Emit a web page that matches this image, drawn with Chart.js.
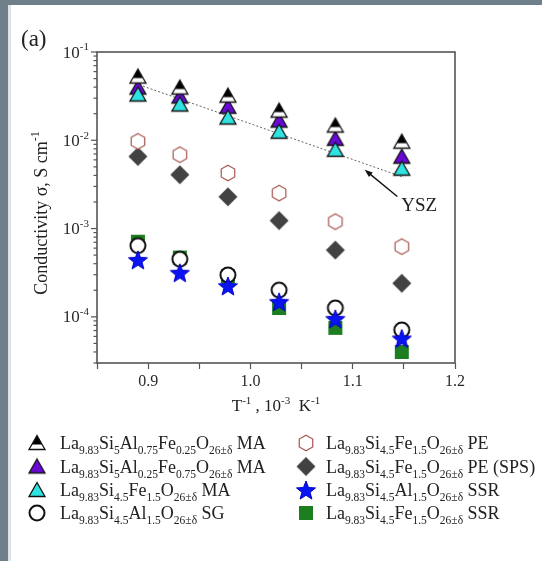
<!DOCTYPE html>
<html>
<head>
<meta charset="utf-8">
<script src="https://cdn.jsdelivr.net/npm/chart.js@4.4.1/dist/chart.umd.min.js"></script>
<style>
  html, body { margin: 0; padding: 0; background: #fff; }
  #wrap { position: relative; width: 542px; height: 561px; }
</style>
</head>
<body>
<div id="wrap"><canvas id="chart"></canvas></div>
<script>
// inverse temperature, 10^-3 K^-1
const invT = [0.890, 0.931, 0.978, 1.028, 1.083, 1.148];

// conductivity, S/cm
const sAl75Fe25MA = [0.0527, 0.0396, 0.0321, 0.0217, 0.0147, 0.00964];
const sAl25Fe75MA = [0.0396, 0.0313, 0.0240, 0.0167, 0.0104, 0.00652];
const sFeMA       = [0.0330, 0.0254, 0.0181, 0.0125, 0.0078, 0.00477];
const sAlSG       = [6.4e-4, 4.5e-4, 2.98e-4, 2.01e-4, 1.26e-4, 7.1e-5];
const sFePE       = [0.00973, 0.00687, 0.00426, 0.00252, 0.00120, 6.25e-4];
const sFeSPS      = [0.00656, 0.00407, 0.00229, 0.00123, 5.7e-4, 2.4e-4];
const sAlSSR      = [4.42e-4, 3.16e-4, 2.24e-4, 1.48e-4, 9.5e-5, 5.7e-5];
const sFeSSR      = [7.1e-4, 4.7e-4, 2.9e-4, 1.26e-4, 7.5e-5, 4.0e-5];

// YSZ reference line
const yszX = [0.895, 1.150];
const yszY = [0.041, 0.0038];
const yszArrowX = [1.1436, 1.1117];
const yszArrowY = [0.00231, 0.00464];
const yszLabelAt = [1.165, 0.0018];

const legendLabels = [
  'La_{9.83}Si_{5}Al_{0.75}Fe_{0.25}O_{26±δ} MA',
  'La_{9.83}Si_{5}Al_{0.25}Fe_{0.75}O_{26±δ} MA',
  'La_{9.83}Si_{4.5}Fe_{1.5}O_{26±δ} MA',
  'La_{9.83}Si_{4.5}Al_{1.5}O_{26±δ} SG',
  'La_{9.83}Si_{4.5}Fe_{1.5}O_{26±δ} PE',
  'La_{9.83}Si_{4.5}Fe_{1.5}O_{26±δ} PE (SPS)',
  'La_{9.83}Si_{4.5}Al_{1.5}O_{26±δ} SSR',
  'La_{9.83}Si_{4.5}Fe_{1.5}O_{26±δ} SSR'
];

const xTickVals = [0.9, 1.0, 1.1, 1.2];
const xTickLabels = ['0.9', '1.0', '1.1', '1.2'];
const yTickVals = [1e-4, 1e-3, 1e-2, 1e-1];
const yTickLabels = ['10^{-4}', '10^{-3}', '10^{-2}', '10^{-1}'];

const SERIF = '"Liberation Serif", "Times New Roman", serif';

// ---- marker canvases ----
function marker(draw) {
  const c = document.createElement('canvas');
  c.width = 26; c.height = 26;
  const g = c.getContext('2d');
  draw(g, 13, 13);
  return c;
}
function triPath(g, cx, cy) {
  g.beginPath();
  g.moveTo(cx, cy - 7.5);
  g.lineTo(cx + 8, cy + 6.5);
  g.lineTo(cx - 8, cy + 6.5);
  g.closePath();
}
function mkTri(fill, half) {
  return marker((g, cx, cy) => {
    triPath(g, cx, cy);
    g.fillStyle = half ? '#fff' : fill;
    g.fill();
    if (half) {
      g.save();
      triPath(g, cx, cy);
      g.clip();
      g.fillStyle = fill;
      g.fillRect(0, 0, 26, cy + 1.5);
      g.restore();
    }
    triPath(g, cx, cy);
    g.lineWidth = 1.3;
    g.strokeStyle = '#111';
    g.stroke();
  });
}
const mkCircle = () => marker((g, cx, cy) => {
  g.beginPath(); g.arc(cx, cy, 7.5, 0, Math.PI * 2);
  g.fillStyle = '#fff'; g.fill();
  g.lineWidth = 2; g.strokeStyle = '#111'; g.stroke();
});
const mkHex = () => marker((g, cx, cy) => {
  g.beginPath();
  for (let k = 0; k < 6; k++) {
    const a = -Math.PI / 2 + k * Math.PI / 3;
    const px = cx + 7.8 * Math.cos(a), py = cy + 7.8 * Math.sin(a);
    k ? g.lineTo(px, py) : g.moveTo(px, py);
  }
  g.closePath();
  g.fillStyle = '#fff'; g.fill();
  g.lineWidth = 1.2; g.strokeStyle = '#a4544e'; g.stroke();
});
const mkDiamond = () => marker((g, cx, cy) => {
  g.beginPath();
  g.moveTo(cx, cy - 9.5); g.lineTo(cx + 9.5, cy); g.lineTo(cx, cy + 9.5); g.lineTo(cx - 9.5, cy);
  g.closePath();
  g.fillStyle = '#424242'; g.fill();
});
const mkStar = () => marker((g, cx, cy) => {
  g.beginPath();
  for (let k = 0; k < 10; k++) {
    const r = k % 2 ? 4.3 : 10;
    const a = -Math.PI / 2 + k * Math.PI / 5;
    const px = cx + r * Math.cos(a), py = cy + 1 + r * Math.sin(a);
    k ? g.lineTo(px, py) : g.moveTo(px, py);
  }
  g.closePath();
  g.fillStyle = '#0a14f0'; g.fill();
  g.lineWidth = 1; g.strokeStyle = '#0000c8'; g.stroke();
});
const mkSquare = () => marker((g, cx, cy) => {
  g.fillStyle = '#1c7e1f';
  g.fillRect(cx - 7, cy - 7, 14, 14);
});

const series = [
  { data: sAl75Fe25MA, style: mkTri('#000', true), order: 1 },
  { data: sAl25Fe75MA, style: mkTri('#6a08d6'), order: 3 },
  { data: sFeMA,       style: mkTri('#2fe3e3'), order: 2 },
  { data: sAlSG,       style: mkCircle(), order: 2 },
  { data: sFePE,       style: mkHex(), order: 2 },
  { data: sFeSPS,      style: mkDiamond(), order: 2 },
  { data: sAlSSR,      style: mkStar(), order: 1 },
  { data: sFeSSR,      style: mkSquare(), order: 3 }
];

// ---- rich text (sub/superscripts) ----
function parseRich(s) {
  const out = [];
  const re = /([_^])\{([^}]*)\}/g;
  let last = 0, m;
  while ((m = re.exec(s))) {
    if (m.index > last) out.push({ t: s.slice(last, m.index), k: 'n' });
    out.push({ t: m[2], k: m[1] === '_' ? 'sub' : 'sup' });
    last = re.lastIndex;
  }
  if (last < s.length) out.push({ t: s.slice(last), k: 'n' });
  return out;
}
function drawRich(g, s, x, y, size, subSize, align) {
  const segs = parseRich(s);
  const fontOf = p => (p.k === 'n' ? size : subSize) + 'px ' + SERIF;
  let w = 0;
  segs.forEach(p => { g.font = fontOf(p); w += g.measureText(p.t).width; });
  let cx = align === 'center' ? x - w / 2 : align === 'right' ? x - w : x;
  g.textAlign = 'left';
  g.textBaseline = 'alphabetic';
  segs.forEach(p => {
    g.font = fontOf(p);
    const dy = p.k === 'sub' ? size * 0.3 : p.k === 'sup' ? -size * 0.42 : 0;
    g.fillText(p.t, cx, y + dy);
    cx += g.measureText(p.t).width;
  });
}

const paper = {
  id: 'paper',
  beforeDraw(chart) {
    const g = chart.ctx;
    g.save();
    g.fillStyle = '#fff';
    g.fillRect(0, 0, chart.width, chart.height);
    g.fillStyle = '#6f7f8a';
    g.fillRect(0, 0, chart.width, 5);
    g.fillRect(0, 0, 8, chart.height);
    g.fillStyle = '#dfe3e6';
    g.fillRect(8, 5, 3, chart.height - 5);
    g.restore();
  },
  afterDraw(chart) {
    const g = chart.ctx;
    const a = chart.chartArea;
    const xs = chart.scales.x, ys = chart.scales.y;
    g.save();

    // frame
    g.strokeStyle = '#555';
    g.lineWidth = 1.6;
    g.strokeRect(a.left, a.top, a.right - a.left, a.bottom - a.top);

    // y ticks (log, major + minor)
    g.lineWidth = 1.2;
    for (let n = -5; n <= -1; n++) {
      for (let k = 1; k <= 9; k++) {
        const v = k * Math.pow(10, n);
        if (v < ys.min * 0.999 || v > ys.max * 1.001) continue;
        const py = ys.getPixelForValue(v);
        const len = k === 1 ? 6 : 3.5;
        g.beginPath();
        g.moveTo(a.left - len, py);
        g.lineTo(a.left, py);
        g.stroke();
      }
    }
    g.fillStyle = '#2a2a2a';
    yTickVals.forEach((v, i) => {
      drawRich(g, yTickLabels[i], a.left - 8, ys.getPixelForValue(v) + 5.5, 17, 11, 'right');
    });

    // axis titles
    g.fillStyle = '#222';
    drawRich(g, 'T^{-1} , 10^{-3}  K^{-1}', 276, 411, 17, 11, 'center');
    g.save();
    g.translate(41, 213);
    g.rotate(-Math.PI / 2);
    drawRich(g, 'Conductivity σ, S cm^{-1}', 0, 6, 18, 12, 'center');
    g.restore();

    // panel tag
    g.font = '23px ' + SERIF;
    g.textAlign = 'left';
    g.textBaseline = 'alphabetic';
    g.fillText('(a)', 21, 46);

    // YSZ annotation arrow
    const tx = xs.getPixelForValue(yszArrowX[0]), ty = ys.getPixelForValue(yszArrowY[0]);
    const hx = xs.getPixelForValue(yszArrowX[1]), hy = ys.getPixelForValue(yszArrowY[1]);
    const ang = Math.atan2(hy - ty, hx - tx);
    g.strokeStyle = '#111';
    g.lineWidth = 1.4;
    g.beginPath(); g.moveTo(tx, ty); g.lineTo(hx - 5 * Math.cos(ang), hy - 5 * Math.sin(ang)); g.stroke();
    g.fillStyle = '#111';
    g.beginPath();
    g.moveTo(hx, hy);
    g.lineTo(hx - 8 * Math.cos(ang) + 3 * Math.sin(ang), hy - 8 * Math.sin(ang) - 3 * Math.cos(ang));
    g.lineTo(hx - 8 * Math.cos(ang) - 3 * Math.sin(ang), hy - 8 * Math.sin(ang) + 3 * Math.cos(ang));
    g.closePath(); g.fill();
    g.fillStyle = '#222';
    g.font = '19px ' + SERIF;
    g.textAlign = 'center';
    g.textBaseline = 'middle';
    g.fillText('YSZ', xs.getPixelForValue(yszLabelAt[0]), ys.getPixelForValue(yszLabelAt[1]));

    // legend
    const rowY = [443, 466.5, 490, 513];
    const symX = [37, 306], textX = [60, 326];
    series.forEach((s, i) => {
      const col = i < 4 ? 0 : 1, row = i % 4;
      g.drawImage(s.style, symX[col] - 13, rowY[row] - 13);
      g.fillStyle = '#222';
      drawRich(g, legendLabels[i], textX[col], rowY[row] + 6, 18, 11.5, 'left');
    });
    g.restore();
  }
};

const datasets = series.map((s, i) => ({
  label: legendLabels[i].replace(/[_^]\{([^}]*)\}/g, '$1'),
  data: invT.map((x, j) => ({ x, y: s.data[j] })),
  pointStyle: s.style,
  pointRadius: 9,
  showLine: false,
  clip: false,
  order: s.order
}));
datasets.push({
  label: 'YSZ',
  data: yszX.map((x, j) => ({ x, y: yszY[j] })),
  showLine: true,
  borderColor: '#666',
  borderWidth: 1,
  borderDash: [2, 2],
  pointRadius: 0,
  order: 10
});

new Chart(document.getElementById('chart'), {
  type: 'scatter',
  data: { datasets },
  plugins: [paper],
  options: {
    responsive: true,
    maintainAspectRatio: false,
    animation: false,
    events: [],
    layout: { padding: { left: 0, top: 52, right: 87, bottom: 0 } },
    plugins: { legend: { display: false }, tooltip: { enabled: false } },
    scales: {
      x: {
        type: 'linear',
        min: 0.85, max: 1.2,
        afterFit: s => { s.height = 198; },
        ticks: {
          stepSize: 0.05,
          autoSkip: false,
          maxRotation: 0,
          padding: 3,
          color: '#2a2a2a',
          font: { family: SERIF, size: 16 },
          callback: v => {
            const i = xTickVals.findIndex(t => Math.abs(t - v) < 1e-6);
            return i >= 0 ? xTickLabels[i] : '';
          }
        },
        grid: { drawOnChartArea: false, tickLength: 6, tickColor: '#555', tickWidth: 1.2 },
        border: { display: false }
      },
      y: {
        type: 'logarithmic',
        min: 3e-5, max: 0.1,
        afterFit: s => { s.width = 97; },
        ticks: { display: false },
        grid: { display: false },
        border: { display: false }
      }
    }
  }
});
</script>
</body>
</html>
